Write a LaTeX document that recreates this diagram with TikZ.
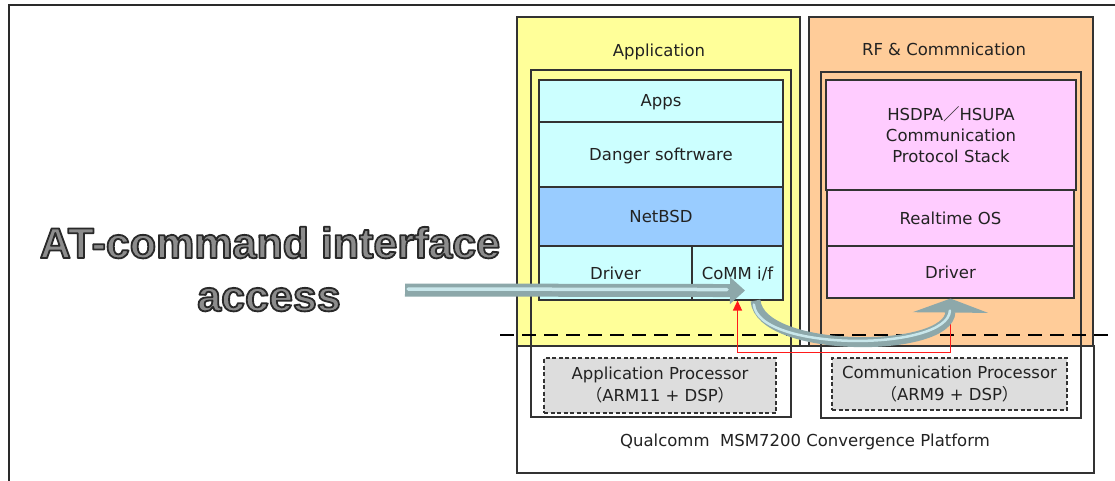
\documentclass[tikz,border=0pt]{standalone}
\usepackage{fontspec}
\setmainfont{DejaVu Sans}
\newfontfamily\cjk{Noto Sans CJK JP}
\newfontfamily\atfont{Liberation Sans}
\usetikzlibrary{arrows.meta,calc}
\definecolor{appyellow}{HTML}{FFFF99}
\definecolor{rforange}{HTML}{FFCC99}
\definecolor{cyanbox}{HTML}{CCFFFF}
\definecolor{bsdblue}{HTML}{99CCFF}
\definecolor{pinkbox}{HTML}{FFCCFF}
\definecolor{procgray}{HTML}{DDDDDD}
\definecolor{edge}{HTML}{333333}
\definecolor{txt}{HTML}{222222}
\definecolor{tubegray}{HTML}{8DA8AA}
\definecolor{tubelight}{HTML}{C9E7EB}
\definecolor{atgray}{HTML}{8C8C8C}
\definecolor{atedge}{HTML}{2A2A2A}
\definecolor{redline}{HTML}{FF1A1A}
\newcommand{\outlinedtext}[1]{\special{pdf:code q 2 Tr 1.8 w 1 j 0.16 0.16 0.16 RG}#1\special{pdf:code Q}}
\begin{document}
\begin{tikzpicture}[x=1pt,y=-1pt,
  lbl/.style={font=\fontsize{16.5}{22}\selectfont, text=txt, inner sep=0pt},
  box/.style={draw=edge, line width=1.1pt, inner sep=0pt, anchor=center},
  tbox/.style={box, font=\fontsize{16.5}{22}\selectfont, text=txt, text height=12pt, text depth=0pt},
  mbox/.style={box, font=\fontsize{16.5}{21}\selectfont, text=txt, align=center},
  procbox/.style={box, dashed, dash pattern=on 4pt off 2.5pt, fill=procgray, font=\fontsize{16.5}{22}\selectfont, text=txt, align=center},
  sepline/.style={line width=2.6pt, dash pattern=on 14pt off 8pt, draw=black},
  tube/.style={draw=tubegray},
  stripe/.style={draw=tubelight, line cap=round},
  atlbl/.style={font=\fontsize{43}{53}\atfont\bfseries, text=atgray, inner sep=0pt, anchor=base}
]
\useasboundingbox (0,0) rectangle (1115,481);
\fill[white] (0,0) rectangle (1115,481);
% frame
\draw[line width=2.6pt, draw=atedge] (9,481) -- (9,5) -- (1115,5);

% outer panels
\node[box, fill=appyellow, minimum width=283pt, minimum height=329pt] (appouter) at (658.5,181.5) {};
\node[box, fill=rforange, minimum width=284pt, minimum height=329pt] (rfouter) at (951,181.5) {};
\node[box, fill=white, minimum width=577pt, minimum height=127pt] (platform) at (805.5,409.5) {};

\node[lbl] (applbl) at (659,52) {Application};
\node[lbl] (rflbl) at (944,49) {RF \& Commnication};
\node[lbl] (platlbl) at (805,442) {Qualcomm\ \ MSM7200 Convergence Platform};

% inner outlines
\node[box, minimum width=260pt, minimum height=347pt] (appinner) at (661,243.5) {};
\node[box, minimum width=260pt, minimum height=346pt] (rfinner) at (951,245) {};

% application stack
\node[tbox, fill=cyanbox, minimum width=244pt, minimum height=42pt] (apps) at (661,101) {Apps};
\node[tbox, fill=cyanbox, minimum width=244pt, minimum height=65pt] (danger) at (661,154.5) {Danger softrware};
\node[tbox, fill=bsdblue, minimum width=244pt, minimum height=59pt] (netbsd) at (661,216.5) {NetBSD};
\node[tbox, fill=cyanbox, minimum width=153pt, minimum height=54pt] (drva) at (615.5,273) {Driver};
\node[tbox, fill=cyanbox, minimum width=91pt, minimum height=54pt] (comm) at (737.5,273) {CoMM i/f};

% RF stack
\node[mbox, fill=pinkbox, minimum width=250pt, minimum height=110pt] (hsdpa) at (951,135) {HSDPA{\cjk ／}HSUPA\\Communication\\Protocol Stack};
\node[tbox, fill=pinkbox, minimum width=247pt, minimum height=56pt] (rtos) at (950.5,218) {Realtime OS};
\node[tbox, fill=pinkbox, minimum width=247pt, minimum height=52pt] (drvb) at (950.5,272) {Driver};

% processors
\node[procbox, minimum width=232pt, minimum height=55pt] (approc) at (660,385.5) {Application Processor\\{\cjk （}ARM11 + DSP{\cjk ）}};
\node[procbox, minimum width=235pt, minimum height=52pt] (commproc) at (949.5,384) {Communication Processor\\{\cjk （}ARM9 + DSP{\cjk ）}};

% separator
\coordinate (sepL) at (500,335);
\coordinate (sepR) at (1115,335);
\draw[sepline] (sepL) -- (sepR);

% red connector
\draw[draw=redline, line width=1.4pt, -{Triangle[length=10pt,width=9pt]}] (drvb.south) -- ++(0,54) -| (comm.south);

% AT-command access arrow
\coordinate (atstart) at (405,290);
\coordinate (attip) at ($(comm.south)+(7.5,-10)$);
\draw[tube, line width=13pt, -{Triangle[length=15pt,width=26pt]}] (atstart) -- (attip);
\draw[stripe, line width=3.5pt] ($(atstart)+(3,-1)$) -- ($(attip)+(-18,-1)$);

% curved arrow
\draw[tube, line width=10pt, -{Triangle[length=14pt,width=75pt]}] ($(comm.south)+(18,0)$) .. controls (760,354) and (950,354) .. (drvb.south);
\draw[stripe, line width=2.5pt, shorten >=12pt, shorten <=4pt] ($(comm.south)+(16,0)$) .. controls (758,352) and (948,352) .. (drvb.south);

% big label
\node[atlbl] (atline1) at (270,258) {\outlinedtext{AT-command interface}};
\node[atlbl] (atline2) at (269,311) {\outlinedtext{access}};
\end{tikzpicture}
\end{document}
